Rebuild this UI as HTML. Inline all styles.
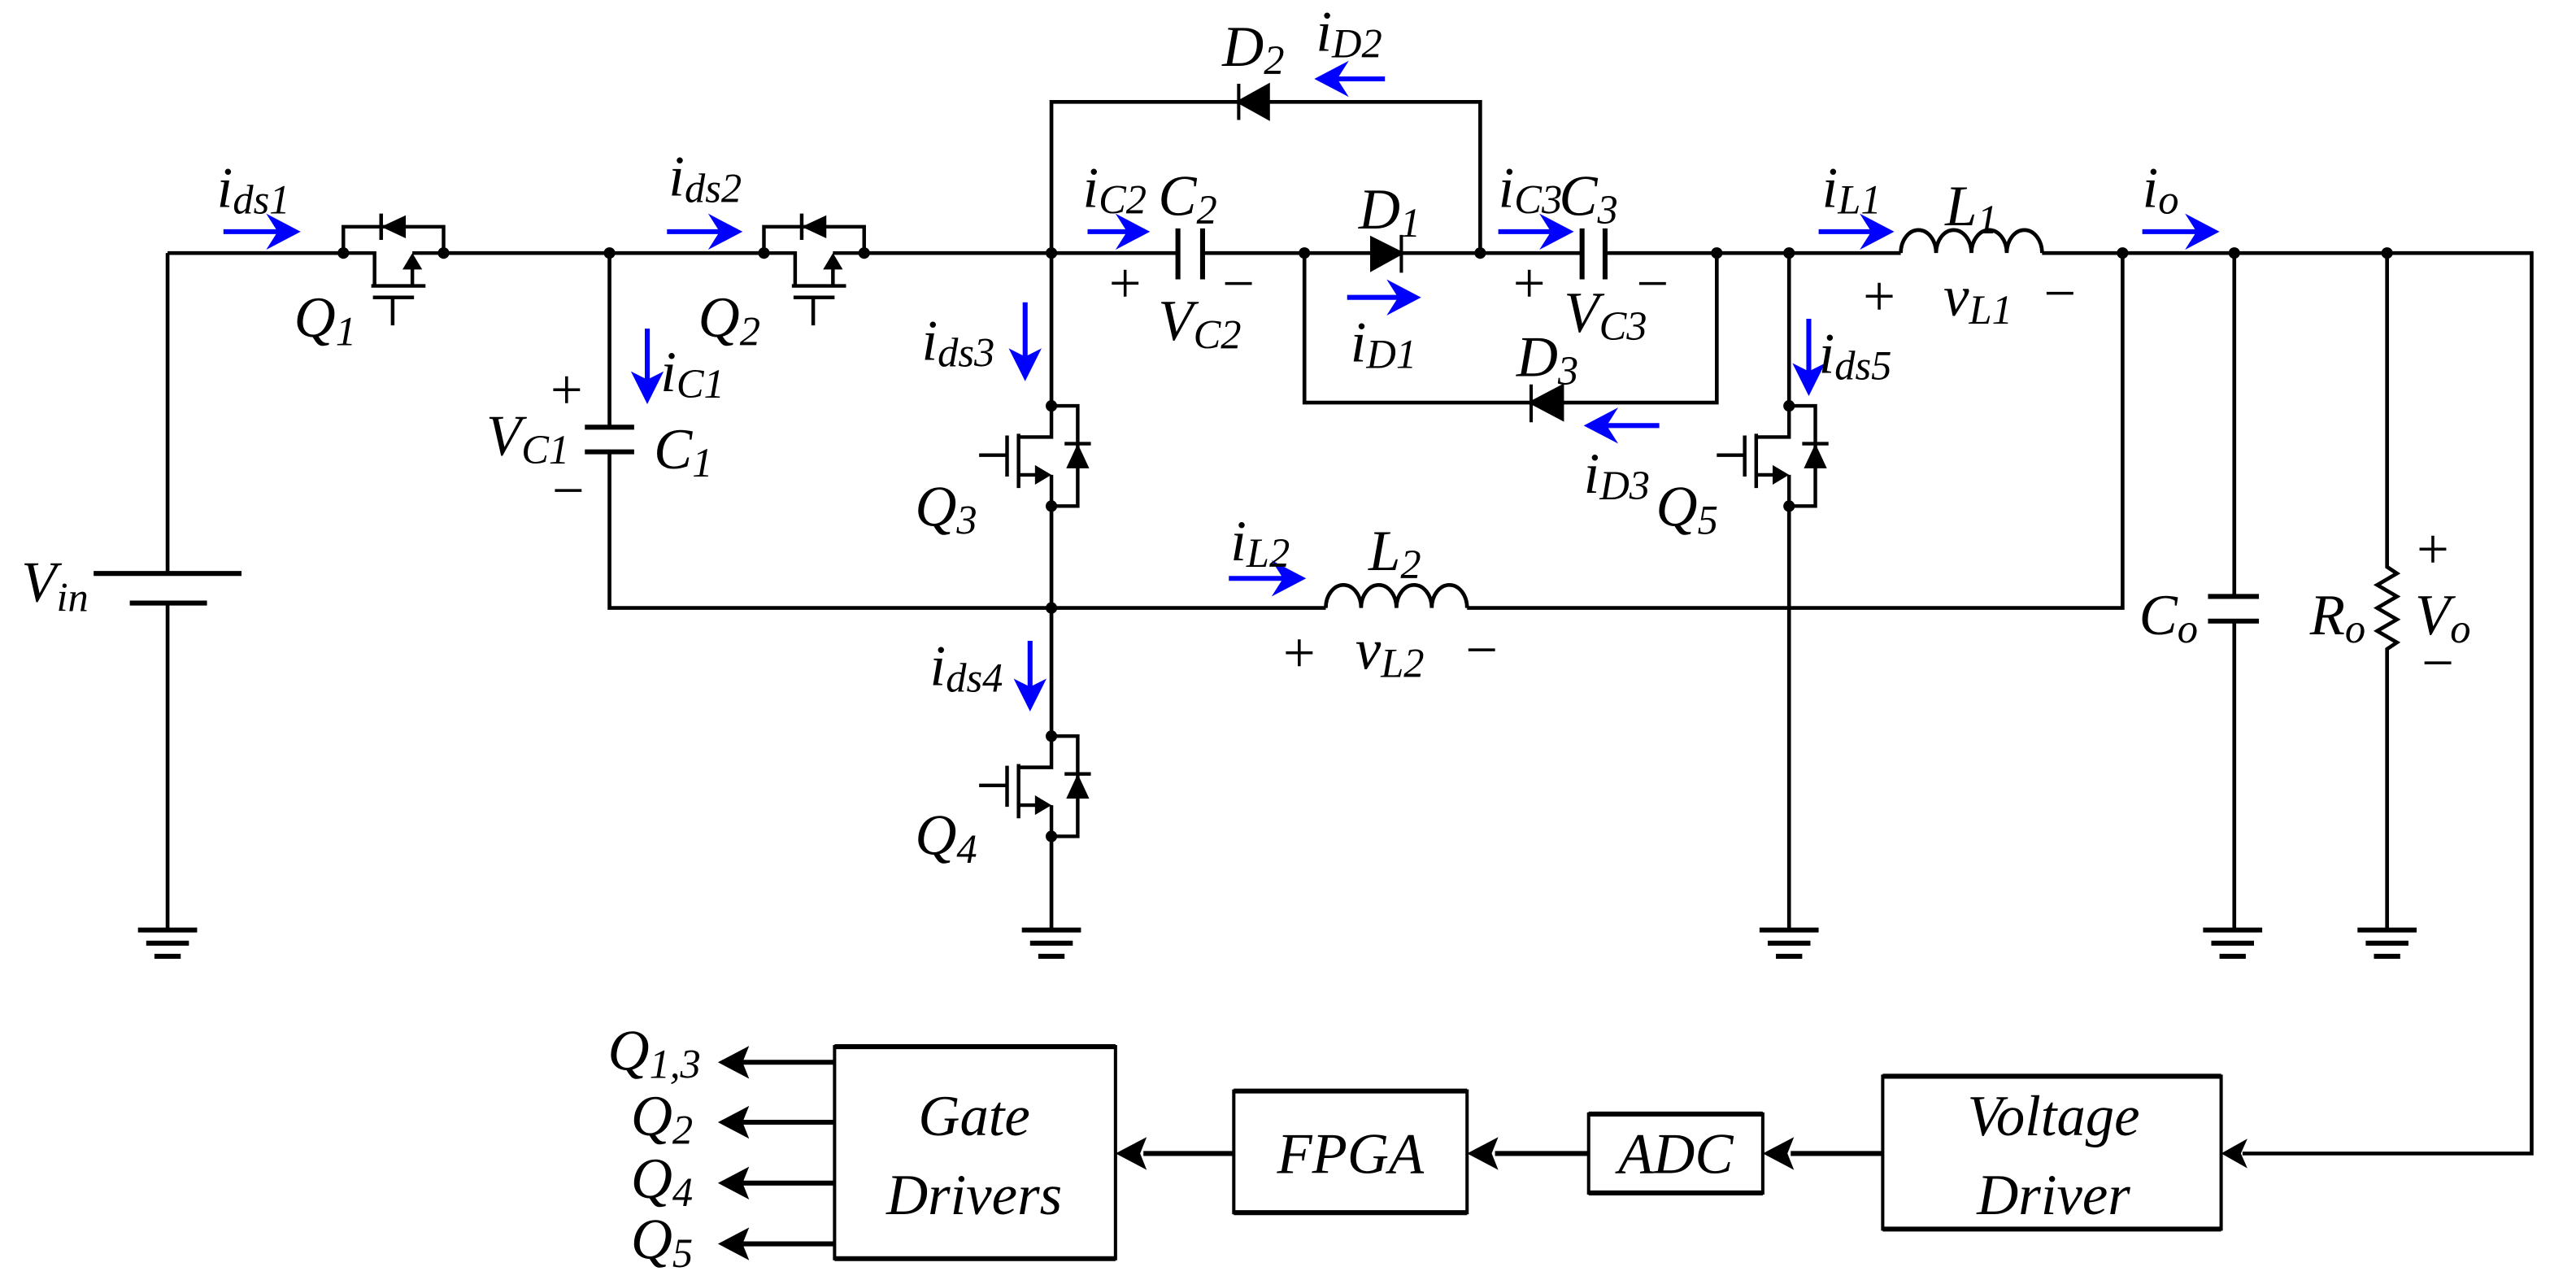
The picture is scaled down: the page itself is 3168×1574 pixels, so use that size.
<!DOCTYPE html>
<html><head><meta charset="utf-8"><style>
html,body{margin:0;padding:0;background:#fff;}
svg{display:block;}
text{font-family:"Liberation Serif",serif;font-style:italic;fill:#000;}
.s{font-style:normal;}
</style></head><body>
<svg width="3168" height="1574" viewBox="0 0 1568 779" preserveAspectRatio="none" xmlns="http://www.w3.org/2000/svg">
<defs>
<g id="mos">
  <path d="M0,0 H16 V61 H0 M0,0 V19 H-20 M-20,17 V50 M-27,18 V43 M-44,30 H-27 M-20,42 H-3 M0,42 V61 M8,23 H24" fill="none" stroke="#000" stroke-width="2.2"/>
  <polygon points="0,42 -10,36 -10,48" fill="#000"/>
  <polygon points="16,23 9,38 23,38" fill="#000"/>
  <circle cx="0" cy="0" r="3.5" fill="#000"/>
  <circle cx="0" cy="61" r="3.5" fill="#000"/>
</g>
<g id="gnd"><path d="M-18,0 H18 M-13,8 H13 M-8,16 H8" stroke="#000" stroke-width="3"/></g>
</defs>
<g fill="none" stroke="#000" stroke-width="2.3">
<path d="M102,154 H209 M269,154 H465 M524,154 H717 M732,154 H835 M853,154 H963 M977,154 H1157 M1243,154 H1541 V702 H1365"/>
<path d="M1157,154 a10.75,14 0 0 1 21.5,0 a10.75,14 0 0 1 21.5,0 a10.75,14 0 0 1 21.5,0 a10.75,14 0 0 1 21.5,0"/>
<path d="M640,154 V62 H901 V154"/>
<path d="M371,154 V260 M371,275 V370 H807 M893,370 H1292 V154"/>
<path d="M807,370 a10.75,14 0 0 1 21.5,0 a10.75,14 0 0 1 21.5,0 a10.75,14 0 0 1 21.5,0 a10.75,14 0 0 1 21.5,0"/>
<path d="M640,154 V247 M640,308 V448 M640,509 V566"/>
<path d="M794,154 V245 H1045 V154"/>
<path d="M1089,154 V247 M1089,308 V566"/>
<path d="M1360,154 V363 M1360,378 V566"/>
<path d="M1453,154 V345 L1459,349 L1447,356 L1459,363 L1447,370 L1459,377 L1447,384 L1459,391 L1453,395 V566"/>
<path d="M102,154 V349 M102,367 V566"/>
</g>
<g stroke="#000" stroke-width="3">
<path d="M356,260 H386 M356,275 H386"/>
<path d="M717,139 V170 M732,139 V170"/>
<path d="M963,139 V170 M977,139 V170"/>
<path d="M1344,363 H1375 M1344,378 H1375"/>
<path d="M57,349 H147 M79,367 H126"/>
</g>
<g fill="#000" stroke="#000" stroke-width="2">
<polygon points="835,145 835,164 853,154"/><path d="M853,143 V166"/>
<polygon points="772,52 772,72 754,62"/><path d="M754,51 V73"/>
<polygon points="951,235 951,255 932,245"/><path d="M932,234 V257"/>
</g>
<use href="#mos" transform="translate(640,247)"/>
<use href="#mos" transform="translate(640,448)"/>
<use href="#mos" transform="translate(1089,247)"/>
<use href="#mos" transform="translate(209,154) rotate(-90)"/>
<use href="#mos" transform="translate(465,154) rotate(-90)"/>
<g fill="#000">
<circle cx="371" cy="154" r="3.5"/><circle cx="640" cy="154" r="3.5"/><circle cx="794" cy="154" r="3.5"/>
<circle cx="901" cy="154" r="3.5"/><circle cx="1045" cy="154" r="3.5"/><circle cx="1089" cy="154" r="3.5"/>
<circle cx="1292" cy="154" r="3.5"/><circle cx="1360" cy="154" r="3.5"/><circle cx="1453" cy="154" r="3.5"/>
<circle cx="640" cy="370" r="3.5"/>
</g>
<use href="#gnd" transform="translate(102,566)"/>
<use href="#gnd" transform="translate(640,566)"/>
<use href="#gnd" transform="translate(1089,566)"/>
<use href="#gnd" transform="translate(1359,566)"/>
<use href="#gnd" transform="translate(1453,566)"/>
<g stroke="#0000ff" stroke-width="3" fill="none">
<path d="M136,141 H170 M406,141 H440 M662,141 H690 M912,141 H946 M1107,141 H1141 M1304,141 H1339 M820,181 H853 M748,352 H783"/>
<path d="M843,48 H812 M1010,259 H977"/>
<path d="M394,200 V233 M624,184 V220 M1101,194 V229 M627,390 V420"/>
</g>
<g fill="#0000ff">
<polygon points="183,141 162,130 169,141 162,152"/>
<polygon points="452,141 431,130 438,141 431,152"/>
<polygon points="700,141 679,130 686,141 679,152"/>
<polygon points="958,141 937,130 944,141 937,152"/>
<polygon points="1153,141 1132,130 1139,141 1132,152"/>
<polygon points="1351,141 1330,130 1337,141 1330,152"/>
<polygon points="865,181 844,170 851,181 844,192"/>
<polygon points="795,352 774,341 781,352 774,363"/>
<polygon points="800,48 821,37 814,48 821,59"/>
<polygon points="964,259 985,248 978,259 985,270"/>
<polygon points="394,246 384,226 394,231 404,226"/>
<polygon points="624,232 614,212 624,217 634,212"/>
<polygon points="1101,241 1091,221 1101,226 1111,221"/>
<polygon points="627,433 617,413 627,418 637,413"/>
</g>
<g fill="none" stroke="#000" stroke-width="2">
<rect x="508" y="637" width="171" height="129"/>
<rect x="751" y="664" width="142" height="74"/>
<rect x="967" y="678" width="106" height="48"/>
<rect x="1146" y="655" width="206" height="93"/>
<path d="M508,637 H679 M508,766 H679 M751,664 H893 M751,738 H893 M967,678 H1073 M967,726 H1073 M1146,655 H1352 M1146,748 H1352" stroke-width="3"/>
<path d="M1146,702 H1090 M967,702 H910 M751,702 H696 M508,646.5 H452 M508,683 H452 M508,720 H452 M508,757 H452" stroke-width="3"/>
</g>
<g fill="#000">
<polygon points="1352,702 1368,693 1364,702 1368,711"/>
<polygon points="1073,702 1092,692 1088,702 1092,712"/>
<polygon points="893,702 912,692 908,702 912,712"/>
<polygon points="679,702 698,692 694,702 698,712"/>
<polygon points="437,646.5 456,636.5 452,646.5 456,656.5"/>
<polygon points="437,683 456,673 452,683 456,693"/>
<polygon points="437,720 456,710 452,720 456,730"/>
<polygon points="437,757 456,747 452,757 456,767"/>
</g>
<g font-size="35">
<text x="132" y="126">i<tspan font-size="25" dy="4">ds</tspan><tspan font-size="25">1</tspan></text>
<text x="179" y="205">Q<tspan font-size="25" dy="5">1</tspan></text>
<text x="407" y="119">i<tspan font-size="25" dy="4">ds</tspan><tspan font-size="25">2</tspan></text>
<text x="425" y="205">Q<tspan font-size="25" dy="5">2</tspan></text>
<text x="402" y="238">i<tspan font-size="25" dy="4">C</tspan><tspan font-size="25">1</tspan></text>
<text class="s" x="335" y="249">+</text>
<text x="296" y="277">V<tspan font-size="25" dy="5">C1</tspan></text>
<text x="398" y="285">C<tspan font-size="25" dy="5">1</tspan></text>
<text class="s" x="336" y="310">−</text>
<text x="13" y="366">V<tspan font-size="25" dy="6">in</tspan></text>
<text x="561" y="219">i<tspan font-size="25" dy="4">ds</tspan><tspan font-size="25">3</tspan></text>
<text x="557" y="320">Q<tspan font-size="25" dy="5">3</tspan></text>
<text x="659" y="126">i<tspan font-size="25" dy="4">C2</tspan></text>
<text x="705" y="131">C<tspan font-size="25" dy="5">2</tspan></text>
<text class="s" x="675" y="184">+</text>
<text x="705" y="207">V<tspan font-size="25" dy="5">C2</tspan></text>
<text class="s" x="744" y="184">−</text>
<text x="744" y="40">D<tspan font-size="25" dy="5">2</tspan></text>
<text x="801" y="31">i<tspan font-size="25" dy="4">D2</tspan></text>
<text x="827" y="139">D<tspan font-size="25" dy="5">1</tspan></text>
<text x="822" y="220">i<tspan font-size="25" dy="4">D1</tspan></text>
<text x="912" y="126">i<tspan font-size="25" dy="4">C3</tspan></text>
<text x="949" y="131">C<tspan font-size="25" dy="5">3</tspan></text>
<text class="s" x="921" y="184">+</text>
<text x="952" y="202">V<tspan font-size="25" dy="5">C3</tspan></text>
<text class="s" x="996" y="184">−</text>
<text x="923" y="229">D<tspan font-size="25" dy="5">3</tspan></text>
<text x="964" y="300">i<tspan font-size="25" dy="4">D3</tspan></text>
<text x="1008" y="320">Q<tspan font-size="25" dy="5">5</tspan></text>
<text x="1107" y="227">i<tspan font-size="25" dy="4">ds</tspan><tspan font-size="25">5</tspan></text>
<text x="1109" y="126">i<tspan font-size="25" dy="4">L1</tspan></text>
<text x="1184" y="137">L<tspan font-size="25" dy="5">1</tspan></text>
<text class="s" x="1134" y="192">+</text>
<text x="1183" y="192">v<tspan font-size="25" dy="5">L1</tspan></text>
<text class="s" x="1244" y="190">−</text>
<text x="1304" y="126">i<tspan font-size="25" dy="4">o</tspan></text>
<text x="749" y="341">i<tspan font-size="25" dy="4">L2</tspan></text>
<text x="833" y="347">L<tspan font-size="25" dy="5">2</tspan></text>
<text class="s" x="781" y="409">+</text>
<text x="825" y="407">v<tspan font-size="25" dy="5">L2</tspan></text>
<text class="s" x="892" y="407">−</text>
<text x="566" y="417">i<tspan font-size="25" dy="4">ds</tspan><tspan font-size="25">4</tspan></text>
<text x="557" y="520">Q<tspan font-size="25" dy="5">4</tspan></text>
<text x="1302" y="386">C<tspan font-size="25" dy="5">o</tspan></text>
<text x="1406" y="386">R<tspan font-size="25" dy="5">o</tspan></text>
<text x="1470" y="386">V<tspan font-size="25" dy="5">o</tspan></text>
<text class="s" x="1471" y="346">+</text>
<text class="s" x="1474" y="415">−</text>
<text x="370" y="651">Q<tspan font-size="25" dy="5">1,3</tspan></text>
<text x="384" y="691">Q<tspan font-size="25" dy="5">2</tspan></text>
<text x="384" y="729">Q<tspan font-size="25" dy="5">4</tspan></text>
<text x="384" y="766">Q<tspan font-size="25" dy="5">5</tspan></text>
<text x="593" y="691" text-anchor="middle">Gate</text>
<text x="593" y="739" text-anchor="middle">Drivers</text>
<text x="822" y="714" text-anchor="middle">FPGA</text>
<text x="1020" y="714" text-anchor="middle">ADC</text>
<text x="1250" y="691" text-anchor="middle">Voltage</text>
<text x="1250" y="739" text-anchor="middle">Driver</text>
</g>
</svg>
</body></html>
